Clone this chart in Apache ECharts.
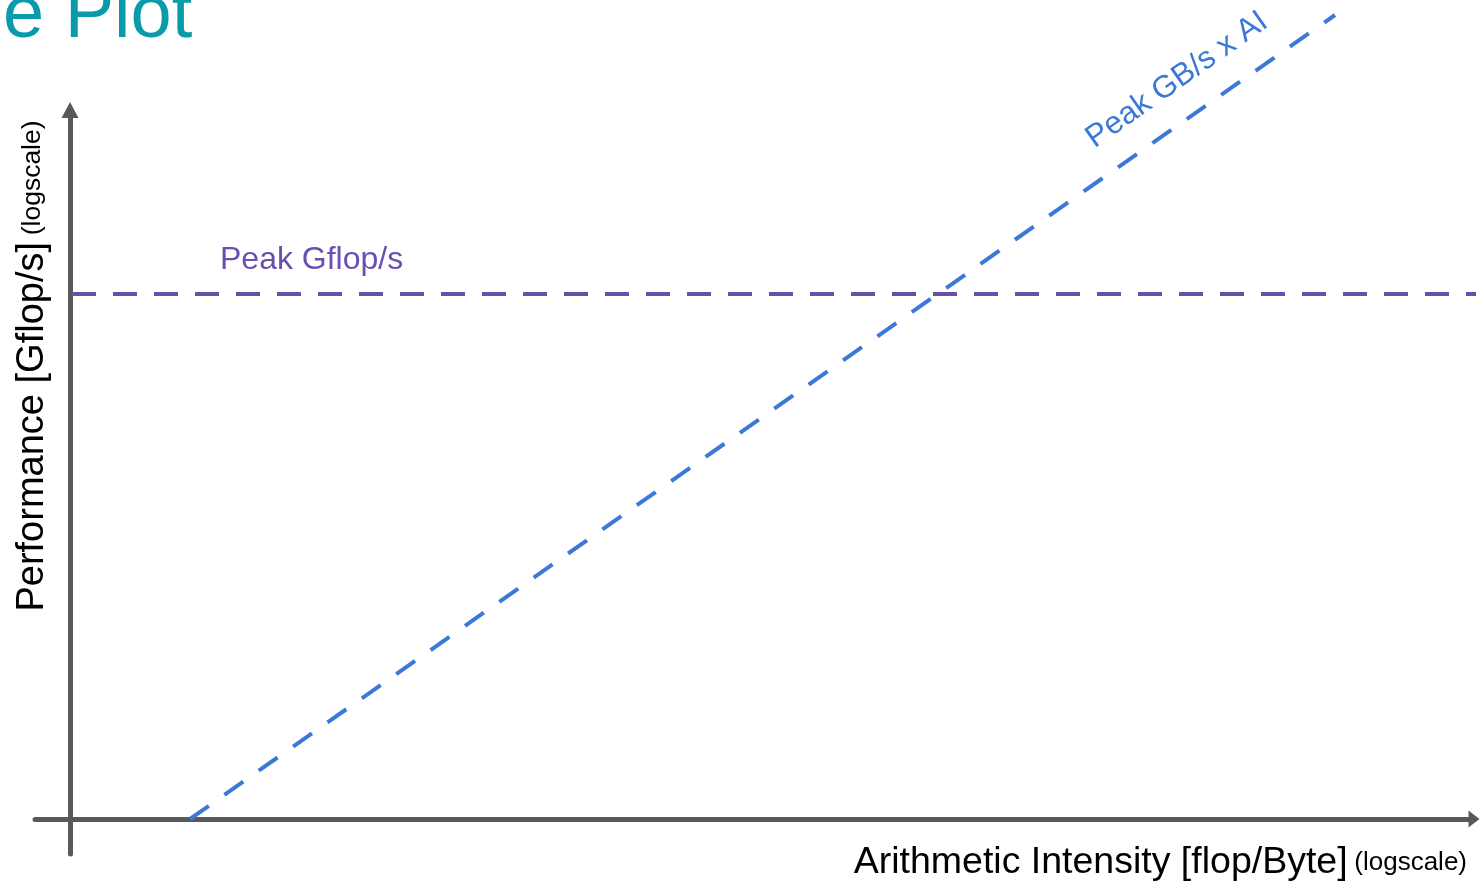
<!DOCTYPE html>
<html>
<head>
<meta charset="utf-8">
<script src="https://cdn.jsdelivr.net/npm/echarts@6/dist/echarts.min.js"></script>
<style>html,body{margin:0;padding:0;background:#fff;}#c{width:1480px;height:886px;}</style>
</head>
<body>
<div id="c"></div>
<script>
// Abstract log-scale units (no tick labels on the original)
const xRange = [-0.35, 14.04];
const yRange = [-0.35, 7.09];
// Peak compute roof (horizontal)
const roofX = [0.02, 14.1];
const roofY = [5.25, 5.25];
// Bandwidth roof: Peak GB/s x AI
const bwX = [1.2, 12.65];
const bwY = [0, 8.04];
const titleText = 'e Plot';
const roofLabel = 'Peak Gflop/s';
const bwLabel = 'Peak GB/s x AI';
const xName = 'Arithmetic Intensity [flop/Byte]';
const yName = 'Performance [Gflop/s]';
const scaleNote = '(logscale)';

const chart = echarts.init(document.getElementById('c'), null, {renderer: 'canvas'});
const font = 'Liberation Sans, Arial, Helvetica, sans-serif';
const axisColor = '#595959';
chart.setOption({
  animation: false,
  grid: {left: 35, right: 6, top: 110, bottom: 32, containLabel: false},
  xAxis: {
    type: 'value', min: xRange[0], max: xRange[1],
    axisLine: {onZero: true, lineStyle: {color: axisColor, width: 5}, symbol: ['none', 'triangle'], symbolSize: [17, 11]},
    axisTick: {show: false}, axisLabel: {show: false}, splitLine: {show: false}
  },
  yAxis: {
    type: 'value', min: yRange[0], max: yRange[1],
    axisLine: {onZero: true, lineStyle: {color: axisColor, width: 5}, symbol: ['none', 'triangle'], symbolSize: [17, 16]},
    axisTick: {show: false}, axisLabel: {show: false}, splitLine: {show: false}
  },
  series: [
    {
      type: 'line', data: roofX.map((x, i) => [x, roofY[i]]), symbol: 'none', clip: false,
      lineStyle: {color: '#6650a8', width: 4, type: [24, 17]}
    },
    {
      type: 'line', data: bwX.map((x, i) => [x, bwY[i]]), symbol: 'none', clip: false,
      lineStyle: {color: '#3c78d8', width: 4, type: [23, 19]}
    }
  ],
  graphic: [
    {type: 'text', x: 3, y: 54, style: {text: titleText, font: '74px ' + font, fill: '#0a9bab', align: 'left', verticalAlign: 'bottom'}},
    {type: 'text', x: 220, y: 260, style: {text: roofLabel, font: '32px ' + font, fill: '#6a4fb0', align: 'left', verticalAlign: 'middle'}},
    {type: 'text', x: 1177, y: 80, rotation: Math.atan2(804, 1145), style: {text: bwLabel, font: '31.5px ' + font, fill: '#3c78d8', align: 'center', verticalAlign: 'middle'}},
    {type: 'text', x: 1467, y: 863, style: {
      text: '{a|' + xName + '}  {b|' + scaleNote + '}', align: 'right', verticalAlign: 'middle',
      rich: {a: {fontSize: 37.5, fontFamily: font, color: '#000'}, b: {fontSize: 26, fontFamily: font, color: '#000'}}
    }},
    {type: 'text', x: 33, y: 366, rotation: Math.PI / 2, style: {
      text: '{a|' + yName + '}  {b|' + scaleNote + '}', align: 'center', verticalAlign: 'middle',
      rich: {a: {fontSize: 38, fontFamily: font, color: '#000'}, b: {fontSize: 26.5, fontFamily: font, color: '#000'}}
    }}
  ]
});
</script>
</body>
</html>
